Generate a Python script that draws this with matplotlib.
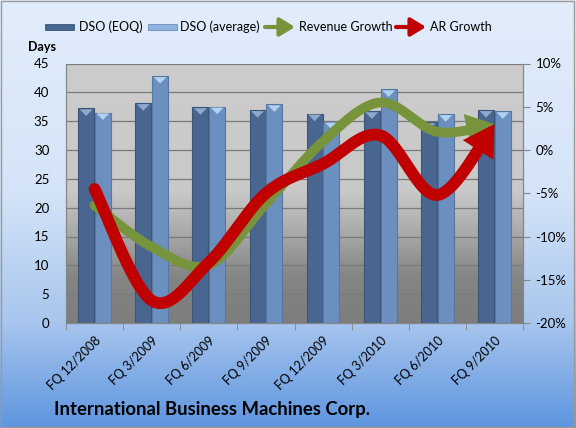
import numpy as np
import matplotlib
matplotlib.use("Agg")
import matplotlib.pyplot as plt
from matplotlib.patches import Rectangle, FancyArrowPatch, Polygon
from matplotlib.colors import LinearSegmentedColormap

categories = ["FQ 12/2008", "FQ 3/2009", "FQ 6/2009", "FQ 9/2009",
              "FQ 12/2009", "FQ 3/2010", "FQ 6/2010", "FQ 9/2010"]
dso_eoq = [37.2, 38.1, 37.4, 36.9, 36.3, 36.7, 34.8, 36.9]
dso_avg = [36.5, 42.8, 37.5, 37.9, 34.9, 40.5, 36.2, 36.7]
revenue_growth = [-6.4, -11.2, -13.3, -6.2, 1.0, 5.5, 2.1, 3.0]
ar_growth = [-4.5, -17.4, -13.0, -5.0, -1.6, 1.7, -5.2, 3.0]

plt.rcParams['font.family'] = ['Lato', 'DejaVu Sans']

W, H = 576, 428
fig = plt.figure(figsize=(W / 100, H / 100), dpi=100)

# figure background gradient
bg = fig.add_axes([0, 0, 1, 1], zorder=-10)
bg_cmap = LinearSegmentedColormap.from_list(
    "bg", [(0, "#e2edfb"), (0.45, "#d4e4f8"), (0.75, "#a9c6ee"), (1.0, "#5d95df")])
grad = np.linspace(0, 1, 256).reshape(-1, 1)
bg.imshow(grad, aspect="auto", cmap=bg_cmap, extent=[0, 1, 0, 1], origin="upper")
bg.set_xlim(0, 1); bg.set_ylim(0, 1)
bg.axis("off")
bg.add_patch(Rectangle((0.002, 0.003), 0.995, 0.994, fill=False,
                       edgecolor="#9a9a9a", linewidth=1.0, transform=bg.transAxes))

left, right = 66 / W, 523 / W
bottom, top = 1 - 323 / H, 1 - 63.5 / H
ax = fig.add_axes([left, bottom, right - left, top - bottom], zorder=1)
ax2 = ax.twinx()

n = len(categories)
x = np.arange(n)
ax.set_xlim(-0.5, n - 0.5)
ax.set_ylim(0, 45)
ax2.set_ylim(-20, 10)

# plot-area gradient
pa_cmap = LinearSegmentedColormap.from_list(
    "pa", [(0, "#cccccc"), (0.49, "#c9c9c9"), (0.62, "#b0b0b0"), (0.82, "#858585"), (1.0, "#7d7d7d")])
ax.imshow(grad, aspect="auto", cmap=pa_cmap, extent=[-0.5, n - 0.5, 0, 45],
          origin="upper", zorder=0)

# grid
for yv in range(5, 45, 5):
    ax.axhline(yv, color="#7a7a7a", linewidth=0.9, zorder=1)
ax.axhline(45, color="#7a7a7a", linewidth=0.9, zorder=1)

bw = 0.28
off = 0.147
def draw_bars(xs, vals, color, edge, cap):
    bars = ax.bar(xs, vals, width=bw, color=color, edgecolor=edge, linewidth=0.8, zorder=2)
    for b in bars:
        bx, bwid, bh = b.get_x(), b.get_width(), b.get_height()
        tri = Polygon([[bx + bwid * 0.1, bh - 0.15], [bx + bwid * 0.9, bh - 0.15],
                       [bx + bwid * 0.5, bh - 1.3]], closed=True,
                      facecolor=cap, edgecolor="none", zorder=3)
        ax.add_patch(tri)
draw_bars(x - off, dso_eoq, "#48668f", "#3a5575", "#8fa9cc")
draw_bars(x + off, dso_avg, "#6b8fbe", "#56779f", "#b3d0f0")

# smooth curves (Bezier through points)
def smooth(xs, ys, steps=40):
    pts = np.column_stack([xs, ys]).astype(float)
    out = []
    for i in range(len(pts) - 1):
        p0 = pts[max(i - 1, 0)]
        p1 = pts[i]
        p2 = pts[i + 1]
        p3 = pts[min(i + 2, len(pts) - 1)]
        c1 = p1 + (p2 - p0) / 6
        c2 = p2 - (p3 - p1) / 6
        t = np.linspace(0, 1, steps, endpoint=False)[:, None]
        seg = ((1 - t) ** 3) * p1 + 3 * ((1 - t) ** 2) * t * c1 + 3 * (1 - t) * t ** 2 * c2 + t ** 3 * p2
        out.append(seg)
    out.append(pts[-1:])
    return np.vstack(out)

def draw_arrow_line(vals, color, lw, head):
    c = smooth(x, vals)
    k = 14
    ax2.plot(c[:-k, 0], c[:-k, 1], color=color, linewidth=lw,
             solid_capstyle="round", zorder=4)
    arr = FancyArrowPatch(posA=tuple(c[-k - 2]), posB=tuple(c[-1]),
                          arrowstyle=f"-|>,head_length={head[0]},head_width={head[1]}",
                          color=color, linewidth=0, mutation_scale=10,
                          transform=ax2.transData, zorder=4, shrinkA=0, shrinkB=0)
    ax2.add_patch(arr)

draw_arrow_line(revenue_growth, "#77933c", 7.0, (2.0, 1.2))
draw_arrow_line(ar_growth, "#c00000", 8.5, (2.2, 1.3))

# axes styling
for a in (ax, ax2):
    a.spines["top"].set_visible(False)
    for sp in ["left", "right", "bottom"]:
        a.spines[sp].set_color("#868686")
ax.set_yticks(range(0, 46, 5))
ax.tick_params(axis="y", length=0, labelsize=9.5, pad=12, colors="#000000")
ax2.set_yticks(range(-20, 11, 5))
ax2.set_yticklabels([f"{v}%" for v in range(-20, 11, 5)])
ax2.tick_params(axis="y", length=5, color="#868686", labelsize=9.5, pad=4)
ax.set_xticks(x)
ax.set_xticklabels(categories, rotation=45, ha="right", rotation_mode="anchor",
                   fontsize=9)
ax.tick_params(axis="x", length=0, pad=8)
ax.set_xticks(np.arange(-0.5, n, 1), minor=True)
ax.tick_params(axis="x", which="minor", length=5, color="#868686")

fig.text(28 / W, 1 - 47 / H, "Days", fontsize=9, fontweight="bold", va="center")

# title
fig.text(54 / W, 1 - 410 / H, "International Business Machines Corp.",
         fontsize=13.3, fontweight="bold", va="center", ha="left")

# legend
ly = 1 - 27 / H
bg.add_patch(Rectangle((45 / W, ly - 2.5 / H), 29 / W, 5 / H, facecolor="#48668f",
                       edgecolor="#3a5575", linewidth=0.6, transform=bg.transAxes))
fig.text(79 / W, ly, "DSO (EOQ)", fontsize=9, va="center")
bg.add_patch(Rectangle((148 / W, ly - 2.5 / H), 29 / W, 5 / H, facecolor="#8fb2e0",
                       edgecolor="#6b8fbe", linewidth=0.6, transform=bg.transAxes))
fig.text(180 / W, ly, "DSO (average)", fontsize=9, va="center")
for x0, col, label in [(265, "#77933c", "Revenue Growth"), (396, "#c00000", "AR Growth")]:
    bg.add_patch(FancyArrowPatch((x0 / W, ly), ((x0 + 30) / W, ly),
                                 arrowstyle="-|>,head_length=0.9,head_width=0.55",
                                 mutation_scale=10, color=col, linewidth=3.0,
                                 transform=bg.transAxes, shrinkA=0, shrinkB=0))
    fig.text((x0 + 34) / W, ly, label, fontsize=9, va="center")

fig.savefig("out.png", dpi=100)
